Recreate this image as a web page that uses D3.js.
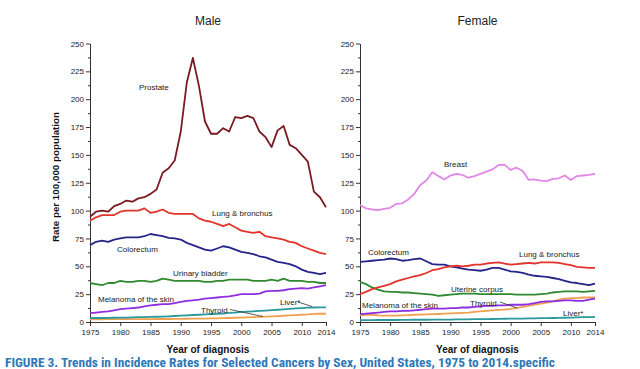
<!DOCTYPE html>
<html><head><meta charset="utf-8">
<script src="https://cdn.jsdelivr.net/npm/d3@7"></script>
<style>
body{margin:0;background:#fff;}
svg{display:block;font-family:"Liberation Sans",Arial,sans-serif;}
.axis text{font-size:8px;fill:#222;font-family:"Liberation Sans",Arial,sans-serif;}
.axis path,.axis line{stroke:#333;stroke-width:1;}
.lbl{font-size:8px;fill:#222;}
</style></head><body>
<svg id="c" width="640" height="369"></svg>
<script>
const years=[1975,1976,1977,1978,1979,1980,1981,1982,1983,1984,1985,1986,1987,1988,1989,1990,1991,1992,1993,1994,1995,1996,1997,1998,1999,2000,2001,2002,2003,2004,2005,2006,2007,2008,2009,2010,2011,2012,2013,2014];
const yTicks=[0,25,50,75,100,125,150,175,200,225,250];
const xTicks=[1975,1980,1985,1990,1995,2000,2005,2010,2014];

// Male
const prostate=[94.5,99,100,99,104,106,109,108,111,112, 115,119,134,138,145,171,215,237,212,180, 169,169,174,171,184,183,185,183,171,166, 157,172,176,159,156,150,144,117,112,103];
const lungM=[91,94,96,96,96,99,100,100,100,102, 98,99,101,98,97,97,97,97,93,91, 90,88,86,88,85,82,81,80,81,77, 76,75,74,72,71,68,66,64,62,61];
const colorectumM=[69,72,73,72,74,75,76,76,76,77, 79,78,77,75.5,75,74,71,69,67,65, 64,66,68,67,65,63,62,61,59,58, 56,54,53,52,50,47,45,44,43,44];
const bladderM=[35,34,33,35,35,37,36,36,37,37, 36,37,39,38,37,37,37,37,37,36, 36,37,37,38,38,38,38,37,37,37, 38,37,39,37,37,37,36,36,35,35];
const melanomaM=[8,8.5,9,9.5,10.5,11.5,12,12.5,13,14, 15,15.5,16,16,17,18,19,19.5,20,21, 21.5,22,22.5,23,24,25,25,25,25.5,27.5, 28,28,28.5,29.5,30,30.5,30,31,32,33];
const liverM=[3.5,3.6,3.6,3.7,3.8,3.9,4.0,4.1,4.3,4.4, 4.6,4.7,4.9,5.1,5.4,5.7,6.0,6.3,6.5,6.8, 7.2,7.4,7.6,8.1,8.5,9.0,9.3,9.6,10.0,10.3, 10.6,11.0,11.4,11.8,12.2,12.5,12.9,13.0,13.1,13.2];
const thyroidM=[2.3,2.4,2.4,2.5,2.5,2.5,2.5,2.6,2.6,2.6, 2.6,2.7,2.7,2.7,2.8,2.8,2.9,3.0,3.0,3.1, 3.2,3.3,3.4,3.6,3.8,3.9,4.1,4.4,4.6,4.8, 5.0,5.3,5.6,5.9,6.2,6.5,6.8,7.3,7.4,7.4];

// Female
const breast=[105,102,101,100.5,101.5,102.5,106,106.5,110,115, 123,127,134.5,131,128,131.5,133,132,129.5,131, 133,135,137,141,141,136.5,138.5,135.5,127.5,128, 127,126.5,128.5,129,131.5,127.5,131,131.5,132,133];
const colorectumF=[54,54.5,55,55.5,56,57,56.5,55,55.5,56.5, 57,54.5,52,51.5,51.5,50,49,48,47,46.5, 46,47,48.5,48.5,47,45.5,45,44,42.5,41.5, 41,40.5,39.5,38.5,37,35.5,35,34,33,34.5];
const lungF=[25,27,29.5,31,32.5,34,36.5,38,39.5,41, 42,44,46.5,47.5,49,50,50.5,50,50.5,51.5, 51.5,52.5,53,53.5,52.5,51.5,52,52.5,53,52.5, 53.5,53.5,53.5,53,52,51,49.5,49,48.5,48.5];
const uterine=[36,34,31,29,27.5,27,27,26.5,26.5,26, 25.5,25,24.5,23.5,24,24.5,25,25.5,25.5,25.5, 25,25,25,25,25,25,24.5,24.5,24.5,24.5, 25,25.5,26.5,27,27.5,27.5,27.5,27,27.5,28];
const melanomaF=[7,7.5,8,8.5,9,9.5,9.5,10,10,10.5, 11,11.5,12,12,12,12.5,12.5,13,13,13.5, 14,14.5,14.5,15,15,15.5,15.5,15.5,16,17, 18,18.5,18.5,19,19.5,19.5,19,19,20,21];
const thyroidF=[6,6.5,6.5,6,5.8,5.7,5.8,6,6.2,6.5, 6.6,6.8,7,7.2,7.5,7.7,8,8.2,8.5,9, 9.5,10,10.5,10.8,11.2,11.7,12.5,13.5,14.5,15.5, 16.5,17.5,18.5,20,21,21.5,21.5,22,22,22];
const liverF=[1.7,1.7,1.7,1.8,1.8,1.8,1.8,1.9,1.9,2.0, 2.0,2.0,2.1,2.1,2.2,2.2,2.3,2.3,2.4,2.5, 2.6,2.6,2.7,2.8,2.9,3.0,3.0,3.1,3.2,3.3, 3.4,3.5,3.6,3.7,3.8,4.0,4.1,4.3,4.4,4.6];

const C={prostate:"#7a1a22",lung:"#e2342c",colo:"#25248a",green:"#2f8a2f",mel:"#8e2ee0",liver:"#2a9a9e",thy:"#f0a14e",breast:"#e187e6"};

const maleSeries=[
 {v:thyroidM,c:C.thy},{v:liverM,c:C.liver},{v:melanomaM,c:C.mel},{v:bladderM,c:C.green},
 {v:colorectumM,c:C.colo},{v:lungM,c:C.lung},{v:prostate,c:C.prostate}];
const femaleSeries=[
 {v:liverF,c:C.liver},{v:thyroidF,c:C.thy},{v:melanomaF,c:C.mel},{v:uterine,c:C.green},
 {v:colorectumF,c:C.colo},{v:lungF,c:C.lung},{v:breast,c:C.breast}];

const svg=d3.select("#c");
const yS=d3.scaleLinear().domain([0,250]).range([322,43.5]);

function panel(x0,x1,series,title){
  const xS=d3.scaleLinear().domain([1975,2014]).range([x0,x1]);
  const g=svg.append("g");
  // minor y ticks
  g.append("g").attr("class","axis").attr("transform",`translate(${x0},0)`)
   .call(d3.axisLeft(yS).tickValues(yTicks.slice(0,-1).map(d=>d+12.5)).tickSize(2).tickFormat("").tickSizeOuter(0))
   .select(".domain").remove();
  g.append("g").attr("class","axis").attr("transform",`translate(${x0},0)`)
   .call(d3.axisLeft(yS).tickValues(yTicks).tickSize(4).tickPadding(2).tickSizeOuter(0));
  g.append("g").attr("class","axis").attr("transform","translate(0,322)")
   .call(d3.axisBottom(xS).tickValues(xTicks).tickFormat(d3.format("d")).tickSize(4).tickPadding(3).tickSizeOuter(0));
  const line=d3.line().x((d,i)=>xS(years[i])).y(d=>yS(d));
  series.forEach(s=>{
    g.append("path").attr("d",line(s.v)).attr("fill","none").attr("stroke",s.c)
     .attr("stroke-width",1.8).attr("stroke-linejoin","round");
  });
  svg.append("text").attr("x",(x0+x1)/2).attr("y",25).attr("text-anchor","middle")
   .attr("font-size",12).attr("fill","#222").text(title);
  svg.append("text").attr("x",(x0+x1)/2).attr("y",353).attr("text-anchor","middle")
   .attr("font-size",10).attr("font-weight","bold").attr("fill","#111").text("Year of diagnosis");
  return xS;
}
panel(90,326,maleSeries,"Male");
panel(360,595,femaleSeries,"Female");

svg.append("text").attr("transform","translate(59,177) rotate(-90)").attr("text-anchor","middle")
  .attr("font-size",9.8).attr("font-weight","bold").attr("fill","#111").text("Rate per 100,000 population");

const labels=[
 ["Prostate",139,90],["Lung & bronchus",212,216],["Colorectum",117,252],["Urinary bladder",173,276],
 ["Melanoma of the skin",98,302],["Thyroid",201,312.5],["Liver*",280,305],
 ["Breast",444,167],["Colorectum",368,254.5],["Lung & bronchus",519,256.5],["Uterine corpus",451,291.5],
 ["Melanoma of the skin",362,308],["Thyroid",470,305.5],["Liver*",563,316]];
labels.forEach(l=>svg.append("text").attr("class","lbl").attr("x",l[1]).attr("y",l[2]).text(l[0]));
const pointers=[[230,309.5,263,316.5],[298,302,312,306.5],[500,302,517,308]];
pointers.forEach(p=>svg.append("line").attr("x1",p[0]).attr("y1",p[1]).attr("x2",p[2]).attr("y2",p[3])
  .attr("stroke","#333").attr("stroke-width",0.8));

svg.append("text").attr("x",5).attr("y",367).attr("font-family","'Liberation Sans Narrow','Roboto Condensed',sans-serif")
  .attr("font-size",13).attr("font-weight","bold").attr("fill","#2f78b8").attr("textLength",550).attr("lengthAdjust","spacingAndGlyphs")
  .text("FIGURE 3. Trends in Incidence Rates for Selected Cancers by Sex, United States, 1975 to 2014.specific");
</script></body></html>
